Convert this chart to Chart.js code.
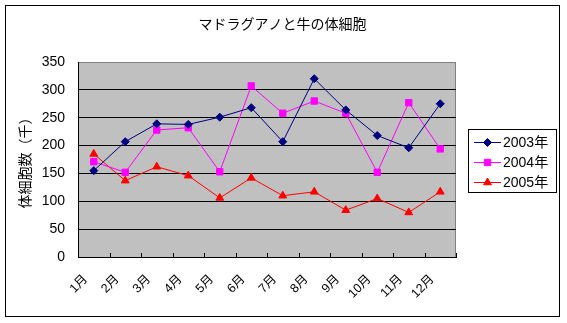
<!DOCTYPE html>
<html><head><meta charset="utf-8">
<script src="https://cdn.jsdelivr.net/npm/chart.js@4.4.1/dist/chart.umd.min.js"></script>
<style>html,body{margin:0;padding:0;background:#fff;}#wrap{width:567px;height:323px;}</style>
</head><body><div id="wrap"><canvas id="c" width="567" height="323"></canvas></div>
<script>
const months = ['1月','2月','3月','4月','5月','6月','7月','8月','9月','10月','11月','12月'];
const seriesNames = ['2003年','2004年','2005年'];
const cells2003 = [155,207,239,238,251,268,207,320,264,218,196,275];
const cells2004 = [171,152,228,232,153,307,258,280,258,152,277,194];
const cells2005 = [185,137,162,146,106,142,110,117,84,105,80,117];
const yMin = 0, yMax = 350, yStep = 50;
const chartTitle = 'マドラグアノと牛の体細胞';
const yAxisTitle = '体細胞数（千）';

const FONT = "'Liberation Sans','Noto Sans CJK JP',sans-serif";
const JFONT = "'Noto Sans CJK JP',sans-serif";

function marker(ctx, style, x, y, r, color){
  ctx.save();
  ctx.fillStyle = color; ctx.strokeStyle = color; ctx.lineWidth = 1;
  ctx.beginPath();
  if (style === 'rectRot'){
    ctx.moveTo(x, y - r); ctx.lineTo(x + r, y); ctx.lineTo(x, y + r); ctx.lineTo(x - r, y);
  } else if (style === 'rect'){
    const s = r * Math.SQRT1_2;
    ctx.rect(x - s, y - s, 2 * s, 2 * s);
  } else {
    ctx.moveTo(x, y - r); ctx.lineTo(x + r * 0.866, y + r * 0.5); ctx.lineTo(x - r * 0.866, y + r * 0.5);
  }
  ctx.closePath(); ctx.fill(); ctx.stroke();
  ctx.restore();
}

const frame = {
  id: 'frame',
  beforeDraw(chart){
    const ctx = chart.ctx, a = chart.chartArea;
    ctx.save();
    ctx.fillStyle = '#fff'; ctx.fillRect(0, 0, chart.width, chart.height);
    ctx.strokeStyle = '#000'; ctx.lineWidth = 1;
    ctx.strokeRect(5.5, 5.5, 554, 311);
    ctx.fillStyle = '#C0C0C0';
    ctx.fillRect(a.left, a.top, a.right - a.left, a.bottom - a.top);
    ctx.strokeStyle = '#808080';
    ctx.strokeRect(Math.round(a.left) + 0.5, Math.round(a.top) + 0.5, Math.round(a.right - a.left) - 1, Math.round(a.bottom - a.top));
    ctx.restore();
  },
  beforeDatasetsDraw(chart){
    const ctx = chart.ctx, a = chart.chartArea;
    const n = chart.data.labels.length, w = (a.right - a.left) / n;
    ctx.save(); ctx.strokeStyle = '#000'; ctx.lineWidth = 1;
    ctx.beginPath();
    for (let k = 0; k <= n; k++){
      const x = Math.round(a.left + w * k) + 0.5;
      ctx.moveTo(x, a.bottom); ctx.lineTo(x, a.bottom - 4);
    }
    ctx.stroke(); ctx.restore();
  },
  afterDraw(chart){
    const ctx = chart.ctx, a = chart.chartArea;
    const bx = Math.round(a.right) + 12, by = 129, bw = 88, bh = 63;
    ctx.save();
    ctx.fillStyle = '#fff'; ctx.fillRect(bx, by, bw, bh);
    ctx.strokeStyle = '#000'; ctx.lineWidth = 1;
    ctx.strokeRect(bx + 0.5, by + 0.5, bw, bh);
    chart.data.datasets.forEach((ds, i) => {
      const cy = by + 13.5 + 20 * i;
      ctx.strokeStyle = ds.borderColor; ctx.lineWidth = 1;
      ctx.beginPath(); ctx.moveTo(bx + 6, cy); ctx.lineTo(bx + 33, cy); ctx.stroke();
      marker(ctx, ds.pointStyle, bx + 19.5, cy, ds.pointRadius, ds.borderColor);
      ctx.fillStyle = '#000'; ctx.font = '14px ' + FONT; ctx.textBaseline = 'middle'; ctx.textAlign = 'left';
      ctx.fillText(ds.label, bx + 35, cy + 1);
    });
    ctx.restore();
  }
};

new Chart(document.getElementById('c'), {
  type: 'line',
  data: {
    labels: months,
    datasets: [
      {label: seriesNames[0], data: cells2003, borderColor: '#000080', backgroundColor: '#000080', pointStyle: 'rectRot', pointRadius: 4},
      {label: seriesNames[1], data: cells2004, borderColor: '#FF00FF', backgroundColor: '#FF00FF', pointStyle: 'rect', pointRadius: 4.5},
      {label: seriesNames[2], data: cells2005, borderColor: '#FF0000', backgroundColor: '#FF0000', pointStyle: 'triangle', pointRadius: 4.5}
    ].map(d => Object.assign(d, {borderWidth: 1, pointBorderWidth: 1, tension: 0, fill: false, pointHoverRadius: d.pointRadius}))
  },
  options: {
    responsive: false,
    animation: false,
    devicePixelRatio: 1,
    events: [],
    layout: {padding: {left: 5, top: 5, right: 7, bottom: 6}},
    plugins: {
      legend: {display: false},
      tooltip: {enabled: false},
      title: {display: true, text: chartTitle, color: '#000',
        font: {family: JFONT, size: 14, weight: 'normal', lineHeight: 1.2},
        padding: {top: 10, bottom: 30.2}}
    },
    scales: {
      x: {
        type: 'category', offset: true,
        grid: {display: false},
        border: {display: true, color: '#000', width: 1},
        ticks: {minRotation: 45, maxRotation: 45, autoSkip: false, color: '#000', font: {family: FONT, size: 12.5}, padding: 7, labelOffset: -8},
        afterFit(s){ s.height = 60; }
      },
      y: {
        min: yMin, max: yMax,
        ticks: {stepSize: yStep, color: '#000', font: {family: FONT, size: 14}, padding: 13},
        grid: {drawTicks: false, lineWidth: 1, color: c => (c.tick && c.tick.value === yMax) ? 'rgba(0,0,0,0)' : '#000'},
        border: {display: true, color: '#000', width: 1},
        title: {display: true, text: yAxisTitle, color: '#000', font: {family: JFONT, size: 14, lineHeight: 1.2}, padding: {top: 11, bottom: 0}},
        afterFit(s){ s.width = 73; }
      },
      y2: {
        position: 'right', display: true,
        grid: {display: false}, border: {display: false}, ticks: {display: false},
        afterFit(s){ s.width = 104; }
      }
    }
  },
  plugins: [frame]
});
</script>
</body></html>
